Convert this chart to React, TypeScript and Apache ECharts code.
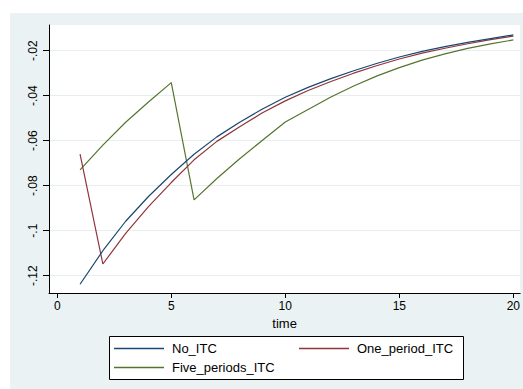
import React, { useEffect, useRef } from "react";
import * as echarts from "echarts";

const time = [1, 2, 3, 4, 5, 6, 7, 8, 9, 10, 11, 12, 13, 14, 15, 16, 17, 18, 19, 20];
const noITC = [-0.1238, -0.1089, -0.0958, -0.0848, -0.075, -0.066, -0.0583, -0.0518, -0.0459, -0.0407, -0.0363, -0.0324, -0.0289, -0.0257, -0.0228, -0.0203, -0.0182, -0.0163, -0.0146, -0.013];
const onePeriodITC = [-0.066, -0.1148, -0.1012, -0.0893, -0.0786, -0.0685, -0.0603, -0.0538, -0.0476, -0.0423, -0.0377, -0.0337, -0.03, -0.0267, -0.0237, -0.0211, -0.0189, -0.0169, -0.0151, -0.0135];
const fivePeriodsITC = [-0.073, -0.062, -0.0518, -0.0428, -0.0342, -0.0863, -0.0768, -0.068, -0.0598, -0.0517, -0.0461, -0.0406, -0.0357, -0.0313, -0.0275, -0.0242, -0.0214, -0.019, -0.017, -0.0152];
const xTicks = [0, 5, 10, 15, 20];
const yTicks = [-0.12, -0.1, -0.08, -0.06, -0.04, -0.02];
const yTickLabels = ["-.12", "-.1", "-.08", "-.06", "-.04", "-.02"];
const seriesNames = ["No_ITC", "One_period_ITC", "Five_periods_ITC"];
const colors = ["#1a476f", "#90353b", "#55752f"];

export default function App() {
  const ref = useRef<HTMLDivElement>(null);
  useEffect(() => {
    if (!ref.current) return;
    const chart = echarts.init(ref.current, undefined, { renderer: "svg" });
    const dataSets = [noITC, onePeriodITC, fivePeriodsITC];
    const font = "'Liberation Sans', Arial, sans-serif";
    const legendPos = [
      { left: 114, top: 342 },
      { left: 299, top: 342 },
      { left: 114, top: 361 },
    ];
    chart.setOption({
      animation: false,
      backgroundColor: "#ffffff",
      textStyle: { fontFamily: font },
      graphic: [
        {
          type: "rect",
          z: -10,
          silent: true,
          shape: { x: 10, y: 13, width: 513, height: 376 },
          style: { fill: "#eaf2f3" },
        },
        {
          type: "rect",
          z: 0,
          silent: true,
          shape: { x: 109.5, y: 336.5, width: 354, height: 43 },
          style: { fill: "#ffffff", stroke: "#000000", lineWidth: 1 },
        },
      ],
      grid: {
        left: 49,
        top: 25,
        right: 0,
        bottom: 96,
        show: true,
        backgroundColor: "#ffffff",
        borderWidth: 0,
      },
      legend: seriesNames.map((n, i) => ({
        data: [n],
        left: legendPos[i].left,
        top: legendPos[i].top,
        padding: 0,
        icon: "rect",
        itemWidth: 50,
        itemHeight: 1.5,
        z: 5,
        textStyle: { fontSize: 13, color: "#000", fontFamily: font, padding: [0, 0, 0, 3] },
      })),
      xAxis: {
        type: "value",
        min: -0.362,
        max: 20.3,
        name: "time",
        nameLocation: "middle",
        nameGap: 16,
        nameTextStyle: { fontSize: 13, color: "#000", fontFamily: font },
        axisLine: { show: true, onZero: false, lineStyle: { color: "#000", width: 1 } },
        axisTick: { show: true, length: 5, customValues: xTicks, lineStyle: { color: "#000" } },
        axisLabel: { customValues: xTicks, fontSize: 12, color: "#000", margin: 7, fontFamily: font },
        splitLine: { show: false },
      },
      yAxis: {
        type: "value",
        min: -0.12769,
        max: -0.00858,
        axisLine: { show: true, onZero: false, lineStyle: { color: "#000", width: 1 } },
        axisTick: { show: true, length: 6, customValues: yTicks, lineStyle: { color: "#000" } },
        axisLabel: {
          customValues: yTicks,
          rotate: 90,
          fontSize: 12,
          color: "#000",
          margin: 10,
          fontFamily: font,
          formatter: (v: number) => {
            const idx = yTicks.findIndex((t) => Math.abs(t - v) < 1e-9);
            return idx >= 0 ? yTickLabels[idx] : "";
          },
        },
        splitLine: { show: true, lineStyle: { color: "#e6eef0", width: 1 } },
      },
      series: seriesNames.map((n, i) => ({
        name: n,
        type: "line",
        data: time.map((t, j) => [t, dataSets[i][j]]),
        showSymbol: false,
        symbol: "none",
        lineStyle: { color: colors[i], width: 1.2 },
        itemStyle: { color: colors[i] },
        z: 3 - i + 2,
      })),
    });
    return () => chart.dispose();
  }, []);
  return (
    <div
      ref={ref}
      style={{ position: "fixed", left: 0, top: 0, width: 523, height: 389 }}
    />
  );
}
